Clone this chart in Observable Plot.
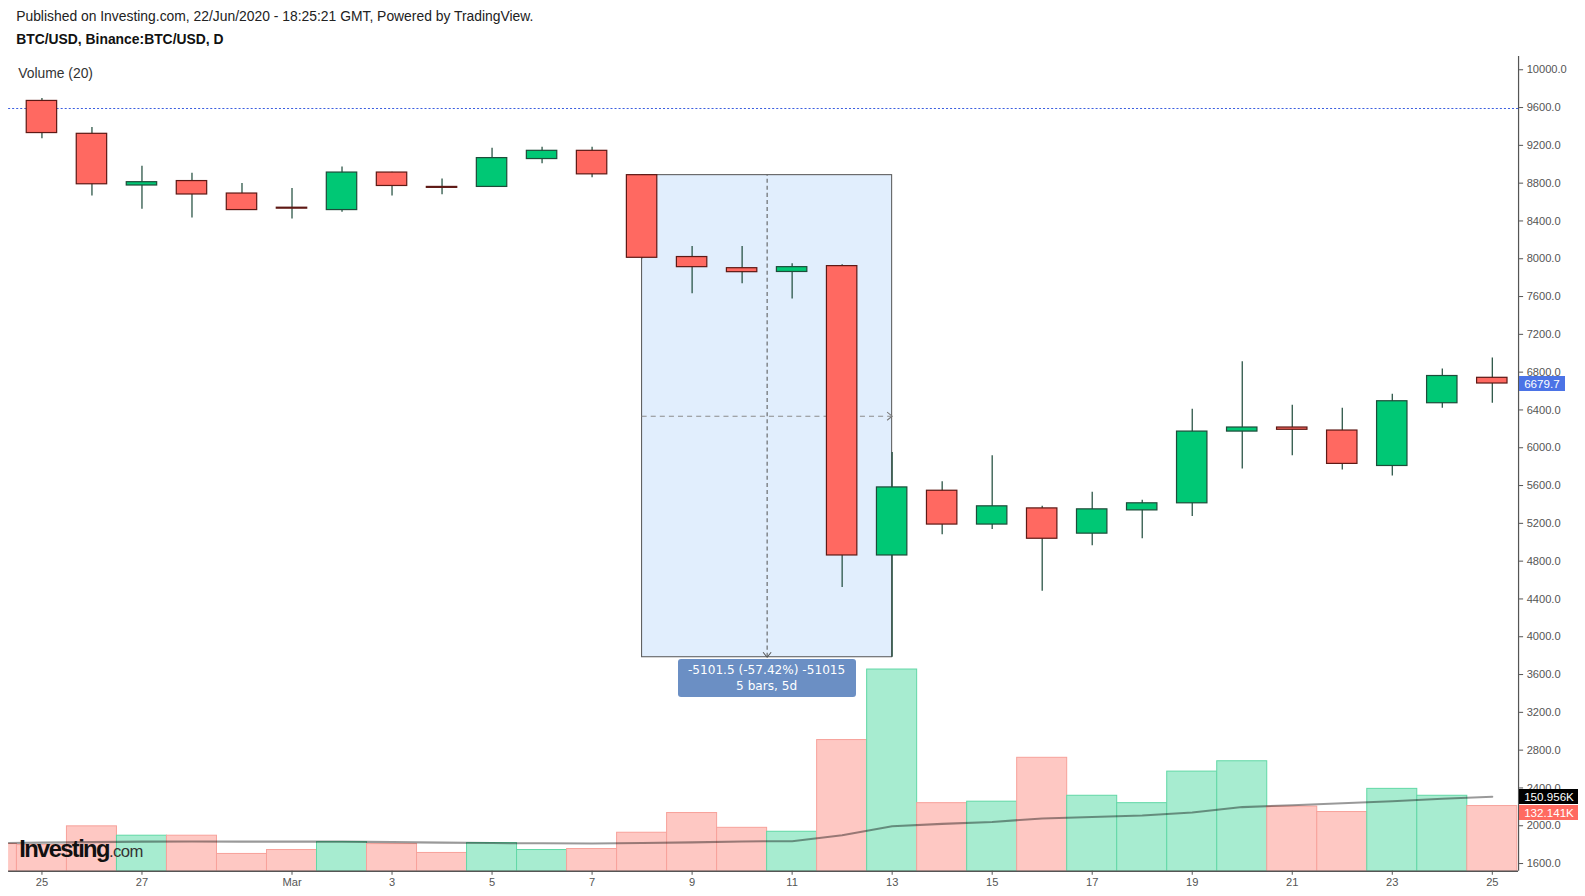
<!DOCTYPE html>
<html><head><meta charset="utf-8">
<script src="https://cdn.jsdelivr.net/npm/d3@7"></script>
<script src="https://cdn.jsdelivr.net/npm/@observablehq/plot@0.6"></script>
<style>
html{margin:0;padding:0;background:#fff;overflow:hidden;}
body{margin:0;padding:0;background:#fff;overflow:hidden;width:1585px;height:896px;zoom:1.0107;font-family:"Liberation Sans",Arial,sans-serif;}
#head{height:46px;position:relative;width:1585px;overflow:hidden;}
#l1{position:absolute;left:16px;top:8px;font-size:13.75px;color:#222;white-space:nowrap;}
#l2{position:absolute;left:16px;top:31px;font-size:13.75px;font-weight:bold;color:#111;white-space:nowrap;}
#wrap{position:relative;width:1585px;height:850px;overflow:hidden;}
#wrap svg{position:absolute;left:0;top:0;max-width:none !important;}
.tag{position:absolute;color:#fff;font-size:11.5px;line-height:15px;height:15px;white-space:nowrap;}
#vol{position:absolute;left:18px;top:18px;font-size:13.75px;color:#333;}
#wm{position:absolute;left:19px;top:781px;white-space:nowrap;line-height:26px;}
#wm b{font-size:23.5px;letter-spacing:-1.6px;color:#111;}
#wm span{font-size:16.5px;color:#333;letter-spacing:-0.5px;}
#meas{position:absolute;background:#6b8fc4;color:#fff;border-radius:3px;text-align:center;font-family:"DejaVu Sans",Verdana,sans-serif;font-size:12px;line-height:16px;padding-top:3px;box-sizing:border-box;}
</style></head><body>
<div id="head"><div id="l1">Published on Investing.com, 22/Jun/2020 - 18:25:21 GMT, Powered by TradingView.</div><div id="l2">BTC/USD, Binance:BTC/USD, D</div></div>
<div id="wrap"></div>
<script>
const dates = ["2020-02-24","2020-02-25","2020-02-26","2020-02-27","2020-02-28","2020-02-29",
  "2020-03-01","2020-03-02","2020-03-03","2020-03-04","2020-03-05","2020-03-06","2020-03-07",
  "2020-03-08","2020-03-09","2020-03-10","2020-03-11","2020-03-12","2020-03-13","2020-03-14",
  "2020-03-15","2020-03-16","2020-03-17","2020-03-18","2020-03-19","2020-03-20","2020-03-21",
  "2020-03-22","2020-03-23","2020-03-24","2020-03-25"];
const open  = [9960,9670,9322,8775,8822,8690,8540,8515,8912,8760,8760,9055,9142,8884.5,8018,7900,7860,7922,4860,5545,5187,5358,5091,5337,5412,6171,6214,6182,5807,6471,6740];
const high  = [10030,9695,9390,8980,8905,8797,8744,8970,8915,8845,9170,9180,9180,8884.5,8130,8130,7947,7936,5950,5640,5914,5380,5530,5444,6406,6909,6449,6417,6567,6834,6950];
const low   = [9500,9270,8665,8525,8430,8510,8420,8493,8665,8676,8755,9005,8857,8000,7630,7736,7575,4520,3783,5080,5134,4481,4963,5037,5273,5775,5914,5765,5701,6417,6470];
const close = [9670,9330,8788,8810,8680,8515,8530,8912,8770,8750,9065,9142,8893,8010,7911,7858,7911,4860,5580,5187,5380,5037,5348,5412,6171,6214,6190,5829,6492,6759,6679.7];
const volumeK = [55,53,91,72,72,35,43,59,55,37,57,43,45,78,118,88,80,266,409,138,141,230,153,138,202,223,131,120,167,153,132.141];
const volumeMA20K = [57,58,59,60,60.5,60,60,60,59,58,57,56.5,56,57,58.5,60.5,61,73,91,96,100,107,110,113,119,130,134,138,142,147,150.956];

const xTickDates = ["2020-02-25","2020-02-27","2020-03-01","2020-03-03","2020-03-05","2020-03-07","2020-03-09",
  "2020-03-11","2020-03-13","2020-03-15","2020-03-17","2020-03-19","2020-03-21","2020-03-23","2020-03-25"];
const yTicks = [1600,2000,2400,2800,3200,3600,4000,4400,4800,5200,5600,6000,6400,6800,7200,7600,8000,8400,8800,9200,9600,10000];

const measureStart = "2020-03-08", measureEnd = "2020-03-13";
const measureHigh = 8884.5, measureLow = 3783, measureBars = 5;
const levelLine = 9590;

const noon = s => new Date(s + "T12:00:00Z");
const rows = dates.map((d, i) => ({date: noon(d), o: open[i], h: high[i], l: low[i], c: close[i], v: volumeK[i], ma: volumeMA20K[i], up: close[i] >= open[i]}));

const UP = "#00c875", DOWN = "#ff6961", UPB = "#1d4c39", DOWNB = "#5e1915", WICK = "#1d4a3a";
const W = 1585, H = 850;
const xDomain = [new Date("2020-02-24T20:00:00Z"), new Date("2020-03-26T00:36:00Z")];
const yDomain = [1518.7, 10139];
const common = {width: W, height: H, marginLeft: 8, marginRight: 83, marginTop: 10, marginBottom: 34,
  style: {background: "transparent", overflow: "hidden", maxWidth: "none", fontFamily: "Liberation Sans, Arial, sans-serif", fontSize: "11px"}};
const dayStart = d => d3.utcDay.floor(d.date);
const dayEnd = d => d3.utcDay.offset(d3.utcDay.floor(d.date), 1);

const measure = {x1: noon(measureStart), x2: noon(measureEnd), hi: measureHigh, lo: measureLow};
measure.mid = new Date((measure.x1.getTime() + measure.x2.getTime()) / 2);
measure.midP = (measure.hi + measure.lo) / 2;

const chevronDown = {draw(ctx) { ctx.moveTo(-4, -5); ctx.lineTo(0, 0); ctx.lineTo(4, -5); }};

const volPlot = Plot.plot({
  ...common,
  x: {type: "utc", domain: xDomain, axis: null},
  y: {domain: [0, 1652], axis: null},
  color: {type: "identity"},
  marks: [
    Plot.rectY(rows, {x1: dayStart, x2: dayEnd, y: "v", fill: d => d.up ? "#a7ecd0" : "#fec8c3", stroke: d => d.up ? "#62d8a6" : "#f7a29b", strokeWidth: 1, clip: true}),
    Plot.line(rows, {x: "date", y: "ma", stroke: "#000", strokeOpacity: 0.4, strokeWidth: 2, clip: true})
  ]
});

const pricePlot = Plot.plot({
  ...common,
  x: {type: "utc", domain: xDomain},
  y: {domain: yDomain},
  color: {type: "identity"},
  marks: [
    Plot.ruleY([levelLine], {stroke: "#3d60e0", strokeDasharray: "2 2", strokeWidth: 1}),
    Plot.rect([measure], {x1: "x1", x2: "x2", y1: "lo", y2: "hi", fill: "#e1eefd", stroke: "#555", strokeWidth: 1}),
    Plot.ruleX([measure], {x: "mid", y1: "lo", y2: "hi", stroke: "#555", strokeDasharray: "4 3"}),
    Plot.ruleY([measure], {y: "midP", x1: "x1", x2: "x2", stroke: "#8c8c8c", strokeDasharray: "5 4"}),
    Plot.dot([measure], {x: "mid", y: "lo", symbol: chevronDown, stroke: "#555", fill: "none", strokeWidth: 1}),
    Plot.dot([measure], {x: "x2", y: "midP", symbol: chevronDown, rotate: -90, stroke: "#777", fill: "none", strokeWidth: 1}),
    Plot.ruleX(rows, {x: "date", y1: "l", y2: "h", stroke: WICK, strokeWidth: 1.2, clip: true}),
    Plot.rect(rows, {x1: dayStart, x2: dayEnd, y1: "o", y2: "c", insetLeft: 9.7, insetRight: 9.7,
      fill: d => d.up ? UP : DOWN, stroke: d => d.up ? UPB : DOWNB, strokeWidth: 1.2, clip: true}),
    Plot.ruleX([xDomain[1]], {stroke: "#555", strokeWidth: 1.2}),
    Plot.ruleY([yDomain[0]], {stroke: "#555", strokeWidth: 1.5}),
    Plot.axisY({anchor: "right", ticks: yTicks, tickFormat: d => d.toFixed(1), tickSize: 4, tickPadding: 4, color: "#555", fontSize: 11, label: null}),
    Plot.axisX({ticks: xTickDates.map(noon), tickFormat: d => d.getUTCDate() === 1 ? d3.utcFormat("%b")(d) : String(d.getUTCDate()), tickSize: 4, tickPadding: 3, color: "#555", fontSize: 11, label: null})
  ]
});

const wrap = document.getElementById("wrap");
wrap.appendChild(volPlot);
wrap.appendChild(pricePlot);

const xs = pricePlot.scale("x"), ys = pricePlot.scale("y"), yv = volPlot.scale("y");
const right = xs.range[1];

function tag(text, bg, top, width) {
  const el = document.createElement("div");
  el.className = "tag";
  el.textContent = text;
  el.style.background = bg;
  el.style.left = (right + 1) + "px";
  el.style.top = top + "px";
  el.style.width = width + "px";
  el.style.paddingLeft = "5px";
  el.style.boxSizing = "border-box";
  wrap.appendChild(el);
}
const lastP = close[close.length - 1];
tag(lastP.toFixed(1), "#4b73e6", ys.apply(lastP) - 7.5, 45);
const maY = yv.apply(volumeMA20K[volumeMA20K.length - 1]) - 8;
tag(volumeMA20K[volumeMA20K.length - 1].toFixed(3) + "K", "#000", maY, 58);
tag(volumeK[volumeK.length - 1].toFixed(3) + "K", "#ff6a60", maY + 16, 58);

const diff = measure.lo - measure.hi;
const m = document.createElement("div");
m.id = "meas";
const mx = xs.apply(measure.mid);
m.style.left = (mx - 88) + "px";
m.style.width = "176px";
m.style.top = (ys.apply(measure.lo) + 2) + "px";
m.style.height = "37px";
m.innerHTML = `${diff.toFixed(1)} (${(diff / measure.hi * 100).toFixed(2)}%) ${Math.round(diff * 10)}<br>${measureBars} bars, ${measureBars}d`;
wrap.appendChild(m);

const v = document.createElement("div");
v.id = "vol"; v.textContent = "Volume (20)";
wrap.appendChild(v);
const wm = document.createElement("div");
wm.id = "wm"; wm.innerHTML = "<b>Investing</b><span>.com</span>";
wrap.appendChild(wm);
</script>
</body></html>
